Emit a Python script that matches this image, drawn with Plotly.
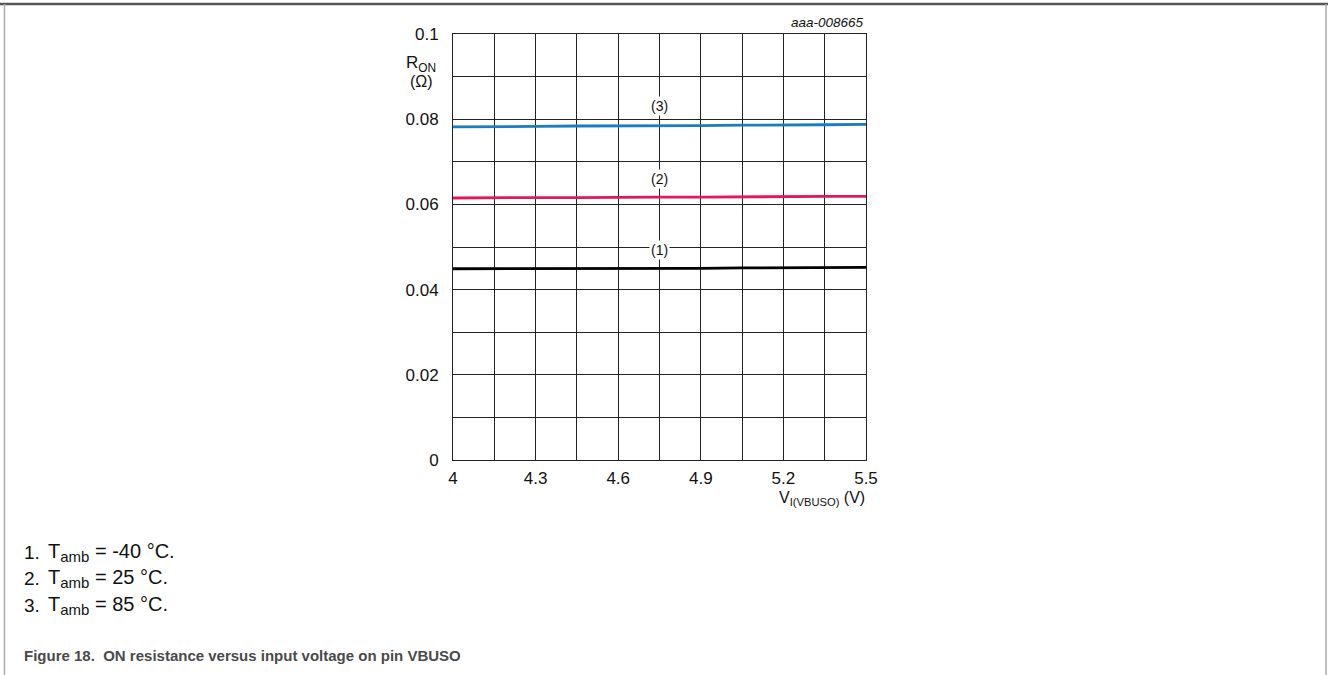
import plotly.graph_objects as go

# ---- data ----
v_in = [4.0, 4.15, 4.3, 4.45, 4.6, 4.75, 4.9, 5.05, 5.2, 5.35, 5.5]
r_m40 = [0.0449, 0.0449, 0.0449, 0.0450, 0.0450, 0.0450, 0.0450, 0.0451, 0.0451, 0.0452, 0.0452]
r_25 = [0.0615, 0.0616, 0.0616, 0.0616, 0.0617, 0.0617, 0.0617, 0.0618, 0.0618, 0.0619, 0.0619]
r_85 = [0.0782, 0.0782, 0.0783, 0.0784, 0.0784, 0.0785, 0.0785, 0.0786, 0.0786, 0.0787, 0.0788]
x_ticks = [4.0, 4.3, 4.6, 4.9, 5.2, 5.5]
x_ticktext = ["4", "4.3", "4.6", "4.9", "5.2", "5.5"]
y_ticks = [0, 0.02, 0.04, 0.06, 0.08, 0.1]
y_ticktext = ["0", "0.02", "0.04", "0.06", "0.08", "0.1"]
curve_labels = ["(1)", "(2)", "(3)"]
label_y = [0.0493, 0.066, 0.0832]
notes_num = ["1.", "2.", "3."]
notes_temp = ["-40 °C.", "25 °C.", "85 °C."]
caption = "Figure 18.\u00a0\u00a0ON resistance versus input voltage on pin VBUSO"
fig_id = "aaa-008665"

W, H = 1328, 675
L, R, T, B = 453, 866, 34, 460
FONT = "Liberation Sans, Arial, sans-serif"


def px(x):
    return (x - L) / (R - L)


def py(y):
    return (B - y) / (B - T)


fig = go.Figure()
colors = ["#000000", "#e5175a", "#1b7cc1"]
for ys, c in zip([r_m40, r_25, r_85], colors):
    fig.add_trace(go.Scatter(x=v_in, y=ys, mode="lines",
                             line=dict(color=c, width=2.8), showlegend=False,
                             hoverinfo="skip"))

for lab, ly in zip(curve_labels, label_y):
    fig.add_annotation(x=4.75, y=ly, xref="x", yref="y", text=lab, showarrow=False,
                       bgcolor="white", font=dict(size=14, color="#111", family=FONT),
                       borderpad=1)

annots = []
annots.append(dict(x=px(R), y=py(22), text="<i>" + fig_id + "</i>", xanchor="right",
                   yanchor="middle", font=dict(size=13.5, color="#111")))
annots.append(dict(x=px(421), y=py(64), text="R<sub>ON</sub>", xanchor="center",
                   yanchor="middle", font=dict(size=17, color="#111")))
annots.append(dict(x=px(421), y=py(81), text="(Ω)", xanchor="center",
                   yanchor="middle", font=dict(size=16, color="#111")))
annots.append(dict(x=px(R + 1), y=py(498), text="V<sub>I(VBUSO)</sub> (V)", xanchor="right",
                   yanchor="middle", font=dict(size=16, color="#111")))
for i, (n, tp) in enumerate(zip(notes_num, notes_temp)):
    yy = 552 + i * 26.5
    annots.append(dict(x=px(22), y=py(yy), text=n, xanchor="left", yanchor="middle",
                       font=dict(size=19, color="#111")))
    txt = "T<sub><span style='font-size:15px'>amb</span></sub> = " + tp
    annots.append(dict(x=px(46), y=py(yy), text=txt, xanchor="left", yanchor="middle",
                       font=dict(size=20, color="#111")))
annots.append(dict(x=px(22), y=py(655), text="<b>" + caption + "</b>", xanchor="left",
                   yanchor="middle", font=dict(size=15, color="#4a4a4a")))
for a in annots:
    a.update(xref="paper", yref="paper", showarrow=False)
    a["font"]["family"] = FONT
    fig.add_annotation(**a)

# outer frame
fig.add_shape(type="line", xref="paper", yref="paper", x0=px(0), x1=px(W),
              y0=py(4), y1=py(4), line=dict(color="#555555", width=2.5))
fig.add_shape(type="line", xref="paper", yref="paper", x0=px(4.5), x1=px(4.5),
              y0=py(4), y1=py(H), line=dict(color="#aaaaaa", width=1.5))
fig.add_shape(type="line", xref="paper", yref="paper", x0=px(1326), x1=px(1326),
              y0=py(4), y1=py(H), line=dict(color="#aaaaaa", width=1.5))

fig.update_layout(
    width=W, height=H,
    margin=dict(l=L, r=W - R, t=T, b=H - B, pad=0),
    paper_bgcolor="white", plot_bgcolor="white",
    font=dict(family=FONT, size=17, color="#111"),
    showlegend=False,
)
fig.update_xaxes(range=[4, 5.5], tickvals=x_ticks, ticktext=x_ticktext,
                 showgrid=True, gridcolor="#222", gridwidth=1,
                 minor=dict(dtick=0.15, tick0=4, showgrid=True, gridcolor="#222", gridwidth=1),
                 showline=True, linecolor="#222", linewidth=1, mirror=True,
                 zeroline=False, ticks="", ticklabelstandoff=3,
                 tickfont=dict(size=17, color="#111"))
fig.update_yaxes(range=[0, 0.1], tickvals=y_ticks, ticktext=y_ticktext,
                 showgrid=True, gridcolor="#222", gridwidth=1,
                 minor=dict(dtick=0.01, tick0=0, showgrid=True, gridcolor="#222", gridwidth=1),
                 showline=True, linecolor="#222", linewidth=1, mirror=True,
                 zeroline=False, ticks="", ticklabelstandoff=10,
                 tickfont=dict(size=17, color="#111"))

fig.write_html("out.html", config={"displayModeBar": False},
               post_script="document.body.style.margin='0';")
